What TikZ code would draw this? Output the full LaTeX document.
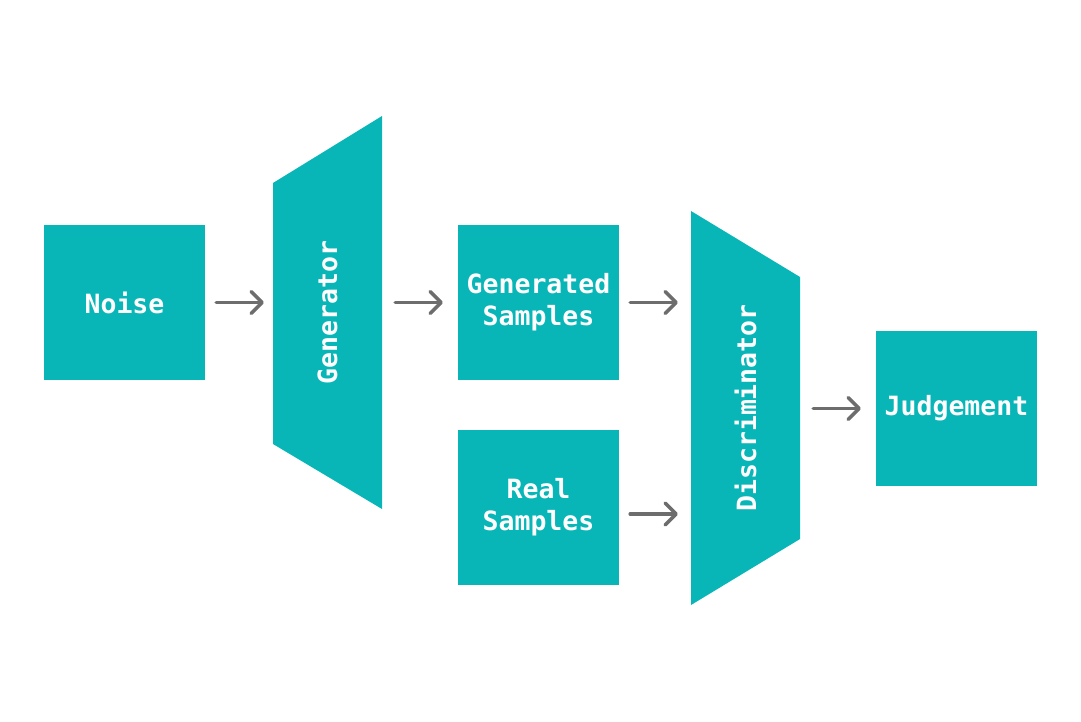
\documentclass[tikz,border=0pt]{standalone}
\usepackage{fontspec}
\setmonofont{DejaVu Sans Mono}
\usetikzlibrary{arrows.meta}
\definecolor{teal}{HTML}{08B6B8}
\definecolor{arrgray}{HTML}{6D6D6D}
\begin{document}
\begin{tikzpicture}[x=1pt,y=-1pt,
  box/.style={fill=teal, draw=none, minimum width=161pt, minimum height=155pt, inner sep=0pt,
    text=white, font=\ttfamily\bfseries\fontsize{26.5}{32}\selectfont, align=center},
  frame/.style={draw=none, inner sep=0pt, text=white, font=\ttfamily\bfseries\fontsize{26.5}{32}\selectfont},
  arr/.style={draw=arrgray, line width=3.5pt, line cap=round, line join=round,
    -{Straight Barb[length=11pt, width=22pt, line cap=round, line join=round]}},
]
\useasboundingbox (0,0) rectangle (1081,721);
% trapezoids
\fill[teal] (273,183) -- (382,116) -- (382,509) -- (273,444) -- cycle;
\fill[teal] (691,211) -- (800,277) -- (800,539) -- (691,605) -- cycle;
\node[frame, minimum width=109pt, minimum height=393pt] (gen) at (327.5,312.5) {};
\node[frame, rotate=90] (gent) at (327.5,312.5) {Generator};
\node[frame, minimum width=109pt, minimum height=394pt] (disc) at (745.5,408) {};
\node[frame, rotate=90] (disct) at (745.5,408) {Discriminator};
% boxes
\node[box] (noise) at (124.5,302.5) {Noise};
\node[box] (gs) at (538.5,302.5) {Generated\\Samples};
\node[box] (rs) at (538.5,507.5) {Real\\Samples};
\node[box] (judge) at (956.5,408.5) {Judgement};
\coordinate (rsout) at ([yshift=-6.5pt]rs.east);
% arrows
\draw[arr, shorten <=11pt, shorten >=9pt] (noise.east) -- (noise.east -| gen.west);
\draw[arr, shorten <=13pt, shorten >=15pt] (gen.east |- gs.west) -- (gs.west);
\draw[arr, shorten <=11pt, shorten >=13pt] (gs.east) -- (gs.east -| disc.west);
\draw[arr, shorten <=11pt, shorten >=13pt] (rsout) -- (rsout -| disc.west);
\draw[arr, shorten <=13pt, shorten >=15pt] (disc.east |- judge.west) -- (judge.west);
\end{tikzpicture}
\end{document}
